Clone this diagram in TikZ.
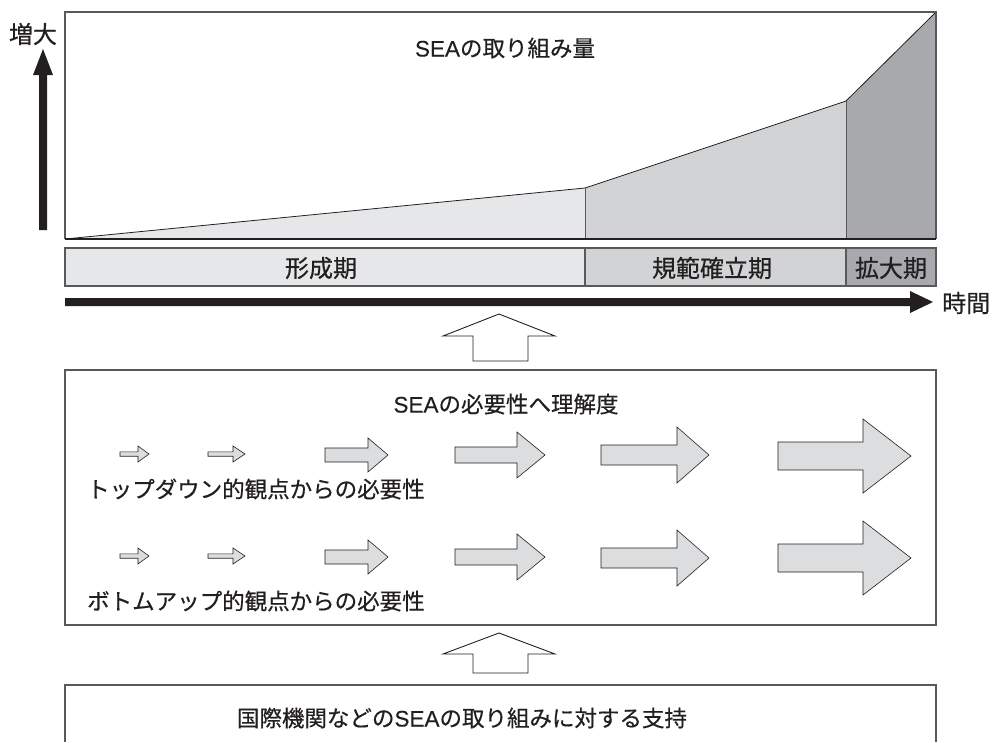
\documentclass[tikz,border=0pt]{standalone}
\usepackage{fontspec}
\setmainfont{Noto Sans CJK JP}[FakeBold=0.5]
\newfontfamily\lat{Liberation Sans}[FakeBold=0.3]
\newcommand{\SEA}{{\lat SEA}}
\definecolor{txt}{HTML}{231F20}
\definecolor{edge}{HTML}{58595B}
\definecolor{fillA}{HTML}{E6E7E8}
\definecolor{fillB}{HTML}{D1D3D4}
\definecolor{fillC}{HTML}{A7A9AC}
\definecolor{arrowfill}{HTML}{DCDDDE}
\newcommand{\blockarrow}[7]{% name, left x, centre y, shaft half, head base x, head half, tip x
  \draw[blockarr] (#2,{#3-#4}) -- (#5,{#3-#4}) -- (#5,{#3-#6}) -- (#7,#3)
    -- (#5,{#3+#6}) -- (#5,{#3+#4}) -- (#2,{#3+#4}) -- cycle;
  \coordinate (#1) at (#7,#3);}
\begin{document}
\begin{tikzpicture}[x=1pt,y=-1pt,
  lbl/.style={text=txt,font=\fontsize{22.5}{24}\selectfont,inner sep=0pt},
  biglbl/.style={lbl,font=\fontsize{24}{26}\selectfont},
  boxline/.style={draw=edge,line width=1.2pt},
  blockarr/.style={draw=txt,fill=arrowfill,line width=0.6pt,line join=miter},
  hollow/.style={draw=txt,fill=white,line width=0.9pt}]
\useasboundingbox (0,0) rectangle (992,742);
% --- chart
\fill[fillA] (65,239) -- (585,188) -- (585,239) -- cycle;
\fill[fillB] (585,239) -- (585,188) -- (846,101) -- (846,239) -- cycle;
\fill[fillC] (846,239) -- (846,101) -- (936,12) -- (936,239) -- cycle;
\draw[txt,line width=0.8pt] (65,239) -- (585,188) -- (846,101) -- (936,12);
\draw[edge,line width=1pt] (585,188) -- (585,239) (846,101) -- (846,239);
\draw[boxline] (65,239) -- (65,12) -- (936,12) -- (936,239);
\draw[txt,line width=1.3pt] (65,239) -- (936,239);
\node[lbl] (title) at (505,48) {\SEA の取り組み量};
% --- vertical arrow
\coordinate (vbase) at (43,230);
\coordinate (vtip) at (43,49);
\fill[txt] (39,230) -- (39,75) -- (33,75) -- (vtip) -- (53,75) -- (47,75) -- (47,230) -- cycle;
\node[biglbl] (inc) at (33,34) {増大};
% --- phase bar
\draw[boxline,fill=fillA] (65,248) rectangle (585,286);
\draw[boxline,fill=fillB] (585,248) rectangle (846,286);
\draw[boxline,fill=fillC] (846,248) rectangle (936,286);
\node[biglbl] (p1) at (321,268) {形成期};
\node[biglbl] (p2) at (712,268) {規範確立期};
\node[biglbl] (p3) at (891,268) {拡大期};
% --- time arrow
\coordinate (tstart) at (65,302);
\coordinate (ttip) at (933,302);
\fill[txt] (65,298) -- (910,298) -- (910,291) -- (ttip) -- (910,313) -- (910,306) -- (65,306) -- cycle;
\node[biglbl,anchor=west] (time) at (942,303) {時間};
% --- hollow arrow 1
\draw[hollow] (473,361) -- (473,336) -- (443,336) -- (499,314) -- (555,336) -- (528,336) -- (528,361) -- cycle;
% --- middle box
\draw[boxline] (65,370) rectangle (936,625);
\node[lbl] (mtitle) at (506,404) {\SEA の必要性へ理解度};
% row 1
\blockarrow{a1}{120}{454}{2.2}{138}{8}{149}
\blockarrow{a2}{208}{454}{2.2}{233}{8}{245}
\blockarrow{a3}{325}{455}{7}{368}{17}{388}
\blockarrow{a4}{455}{455}{8}{517}{23}{545}
\blockarrow{a5}{601}{455}{10}{677}{28}{709}
\blockarrow{a6}{778}{456}{14}{863}{37}{911}
\node[lbl,anchor=west] (top) at (87,489) {トップダウン的観点からの必要性};
% row 2
\blockarrow{b1}{120}{556}{2.2}{138}{8}{149}
\blockarrow{b2}{208}{556}{2.2}{233}{8}{245}
\blockarrow{b3}{325}{557}{7}{368}{17}{388}
\blockarrow{b4}{455}{557}{8}{517}{23}{545}
\blockarrow{b5}{601}{558}{10}{677}{28}{709}
\blockarrow{b6}{778}{558}{14}{863}{37}{911}
\node[lbl,anchor=west] (bottom) at (87,601) {ボトムアップ的観点からの必要性};
% --- hollow arrow 2
\draw[hollow] (473,673) -- (473,654) -- (443,654) -- (499,633) -- (555,654) -- (528,654) -- (528,673) -- cycle;
% --- bottom box
\draw[boxline] (65,742) -- (65,685) -- (936,685) -- (936,742);
\node[lbl] (support) at (462,718) {国際機関などの\SEA の取り組みに対する支持};
\end{tikzpicture}
\end{document}
